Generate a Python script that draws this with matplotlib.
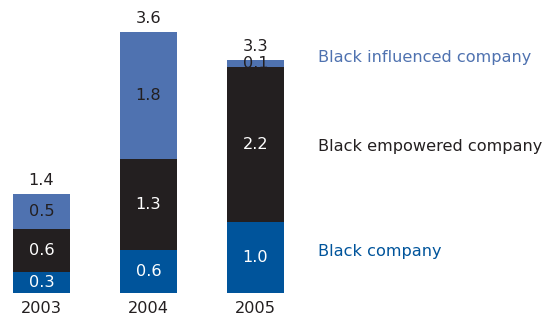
import matplotlib
matplotlib.use("Agg")
import matplotlib.pyplot as plt
import numpy as np

# BEE spend by category (R billion)
years = ["2003", "2004", "2005"]
black_company = [0.3, 0.6, 1.0]
black_empowered = [0.6, 1.3, 2.2]
black_influenced = [0.5, 1.8, 0.1]
totals = [1.4, 3.6, 3.3]

series_names = ["Black company", "Black empowered company", "Black influenced company"]
colores = ["#00549b", "#231f20", "#4f72b0"]
colores_texto = ["white", "white", "#231f20"]

plt.rcParams["font.family"] = ["DejaVu Sans"]
fs = 11.6

fig = plt.figure(figsize=(5.57, 3.2), dpi=100)
ax = fig.add_axes([0, 27.3 / 320, 1, 292.7 / 320])

x = np.arange(len(years))
ancho = 0.533
base = np.zeros(len(years))
for valores, color, ctexto in zip([black_company, black_empowered, black_influenced], colores, colores_texto):
    valores = np.array(valores)
    ax.bar(x, valores, ancho, bottom=base, color=color, linewidth=0)
    for xi, b, v in zip(x, base, valores):
        ax.text(xi, b + v / 2, f"{v:.1f}", ha="center", va="center", color=ctexto, fontsize=fs)
    base = base + valores

# totales encima de cada barra
for xi, b, t in zip(x, base, totals):
    ax.annotate(f"{t:.1f}", (xi, b), xytext=(0, 4), textcoords="offset points",
                ha="center", va="bottom", fontsize=fs, color="#231f20")

# años debajo del eje
for xi, y in zip(x, years):
    ax.annotate(y, (xi, 0), xytext=(0, -6), textcoords="offset points",
                ha="center", va="top", fontsize=fs, color="#231f20")

# etiquetas de series a la derecha
etiquetas_y = [0.59, 2.07, 3.33]
for nombre, color, yy in zip(series_names, colores, etiquetas_y):
    ax.text(2.584, yy, nombre, ha="left", va="center", fontsize=fs, color=color)

ax.set_xlim(-0.388, 4.818)
ax.set_ylim(0, 292.7 / 70.5)
ax.axis("off")

fig.savefig("out.png", dpi=100)
